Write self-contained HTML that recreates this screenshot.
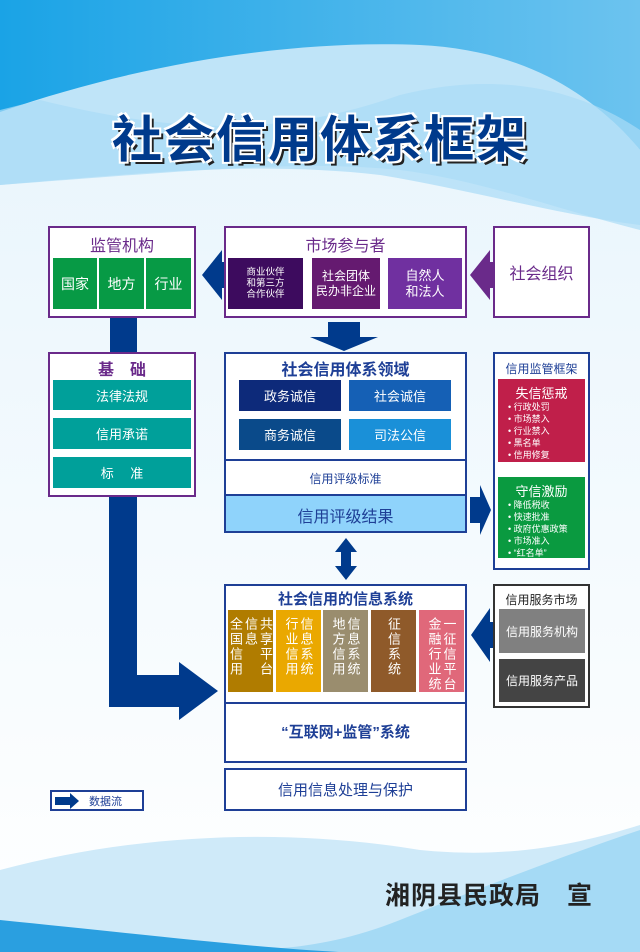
<!DOCTYPE html>
<html><head><meta charset="utf-8"><style>
*{margin:0;padding:0;box-sizing:border-box}
body{width:640px;height:952px;position:relative;overflow:hidden;font-family:"Liberation Sans","Noto Sans CJK SC",sans-serif;background:#fff}
.a{position:absolute}
.box{position:absolute;background:#fff}
.pb{border:2px solid #6a2a8a}
.bb{border:2px solid #1e3f96}
.c{position:absolute;color:#fff;display:flex;align-items:center;justify-content:center;text-align:center}
.t{position:absolute;text-align:center;white-space:nowrap}
.vc{position:absolute;top:610px;width:45px;height:82px;display:flex;flex-direction:row;justify-content:center;align-items:flex-start;padding-top:7px;gap:2px;color:#fff}
.vc span{writing-mode:vertical-lr;text-orientation:upright;font-size:13px;line-height:13px;letter-spacing:2px}
ul{list-style:none;font-size:9px;line-height:12px;color:#fff}
</style></head><body>
<svg class="a" style="left:0;top:0" width="640" height="952">
<defs>
<linearGradient id="g1" x1="0" y1="0" x2="1" y2="0"><stop offset="0" stop-color="#1aa3e6"/><stop offset="1" stop-color="#6cc3ef"/></linearGradient>
<linearGradient id="g2" x1="0" y1="0" x2="0" y2="1"><stop offset="0" stop-color="#e6f4fc"/><stop offset="1" stop-color="#ffffff"/></linearGradient>
</defs>
<rect width="640" height="952" fill="url(#g2)"/>
<rect width="640" height="120" fill="url(#g1)"/>
<path d="M0 112 C150 60 300 40 420 45 C520 50 590 90 640 150 L640 0 L0 0Z" fill="url(#g1)"/>
<path d="M0 112 C150 60 300 40 420 45 C520 50 590 90 640 150 L640 230 C560 210 480 180 400 170 C300 160 200 170 0 185Z" fill="#bfe4f8"/>
<path d="M40 100 C200 140 300 130 400 95 C500 70 580 90 640 130 L640 225 C560 215 470 190 380 175 C250 160 120 175 0 185 L0 110Z" fill="#a9dbf6" opacity="0.7"/>
<path d="M0 870 C150 830 300 830 420 850 C520 860 590 840 640 825 L640 952 L0 952Z" fill="#cfeaf9"/>
<path d="M0 920 C200 960 300 960 400 920 C500 880 580 850 640 830 L640 952 L0 952Z" fill="#9ad6f4" opacity="0.8"/>
<path d="M0 920 C200 940 350 960 450 952 L0 952Z" fill="#2a9fe0"/>
<polygon points="202,275 222,250 222,300" fill="#003a8c"/>
<rect x="214" y="262" width="10" height="26" fill="#003a8c"/>
<polygon points="470,275 490,250 490,300" fill="#6a2a8a"/>
<rect x="484" y="262" width="10" height="26" fill="#6a2a8a"/>
<polygon points="328,322 360,322 360,337 378,337 344,351 310,337 328,337" fill="#003a8c"/>
<rect x="110" y="318" width="27" height="35" fill="#003a8c"/>
<polygon points="109,497 137,497 137,675 179,675 179,662 218,691 179,720 179,707 109,707" fill="#003a8c"/>
<polygon points="470,497 480,497 480,485 491,510 480,535 480,523 470,523" fill="#003a8c"/>
<polygon points="346,538 357,552 351,552 351,566 357,566 346,580 335,566 341,566 341,552 335,552" fill="#003a8c"/>
<polygon points="471,635 490,608 490,622 496,622 496,648 490,648 490,662" fill="#003a8c"/>
</svg>
<div class="t" style="left:0;width:640px;top:100px;font-size:50px;font-weight:bold;color:#003a8c;letter-spacing:2px;text-shadow:2px 2px 0 #fff,-2px -2px 0 #fff,2px -2px 0 #fff,-2px 2px 0 #fff,4px 4px 0 #222">社会信用体系框架</div>

<div class="box pb" style="left:48px;top:226px;width:148px;height:92px"></div>
<div class="t" style="left:48px;width:148px;top:232px;font-size:16px;color:#6a2a8a">监管机构</div>
<div class="c" style="left:53px;top:258px;width:44px;height:51px;background:#079a45;font-size:14px">国家</div>
<div class="c" style="left:99px;top:258px;width:45px;height:51px;background:#079a45;font-size:14px">地方</div>
<div class="c" style="left:146px;top:258px;width:45px;height:51px;background:#079a45;font-size:14px">行业</div>

<div class="box pb" style="left:224px;top:226px;width:243px;height:92px"></div>
<div class="t" style="left:224px;width:243px;top:232px;font-size:16px;color:#6a2a8a">市场参与者</div>
<div class="c" style="left:228px;top:258px;width:75px;height:51px;background:#3d0b5e;font-size:9.5px;line-height:11px">商业伙伴<br>和第三方<br>合作伙伴</div>
<div class="c" style="left:312px;top:258px;width:68px;height:51px;background:#651a70;font-size:12px;line-height:15px">社会团体<br>民办非企业</div>
<div class="c" style="left:388px;top:258px;width:74px;height:51px;background:#7030a0;font-size:13px;line-height:16px">自然人<br>和法人</div>

<div class="box pb" style="left:493px;top:226px;width:97px;height:92px"></div>
<div class="t" style="left:493px;width:97px;top:260px;font-size:16px;color:#6a2a8a">社会组织</div>

<div class="box pb" style="left:48px;top:352px;width:148px;height:145px"></div>
<div class="t" style="left:48px;width:148px;top:356px;font-size:16px;font-weight:bold;color:#6a2a8a">基　础</div>
<div class="c" style="left:53px;top:380px;width:138px;height:30px;background:#00a09a;font-size:13px">法律法规</div>
<div class="c" style="left:53px;top:418px;width:138px;height:31px;background:#00a09a;font-size:13px">信用承诺</div>
<div class="c" style="left:53px;top:457px;width:138px;height:31px;background:#00a09a;font-size:13px">标　 准</div>

<div class="box bb" style="left:224px;top:352px;width:243px;height:181px"></div>
<div class="t" style="left:224px;width:243px;top:356px;font-size:16px;font-weight:bold;color:#1e3f96">社会信用体系领域</div>
<div class="c" style="left:239px;top:380px;width:102px;height:31px;background:#0d2a7a;font-size:13px">政务诚信</div>
<div class="c" style="left:349px;top:380px;width:102px;height:31px;background:#1560b5;font-size:13px">社会诚信</div>
<div class="c" style="left:239px;top:419px;width:102px;height:31px;background:#0a4a8a;font-size:13px">商务诚信</div>
<div class="c" style="left:349px;top:419px;width:102px;height:31px;background:#1a90d8;font-size:13px">司法公信</div>
<div class="a" style="left:224px;top:459px;width:243px;height:2px;background:#1e3f96"></div>
<div class="t" style="left:224px;width:243px;top:470px;font-size:12px;color:#1e3f96">信用评级标准</div>
<div class="a" style="left:224px;top:494px;width:243px;height:39px;background:#8fd3fb;border:2px solid #1e3f96"></div>
<div class="t" style="left:224px;width:243px;top:503px;font-size:16px;color:#1e3f96">信用评级结果</div>

<div class="box bb" style="left:493px;top:352px;width:97px;height:218px"></div>
<div class="t" style="left:493px;width:97px;top:360px;font-size:12px;color:#1e3f96">信用监管框架</div>
<div class="a" style="left:498px;top:379px;width:87px;height:83px;background:#c01f4a"></div>
<div class="t" style="left:498px;width:87px;top:383px;font-size:13px;color:#fff">失信惩戒</div>
<ul class="a" style="left:508px;top:401px"><li>• 行政处罚</li><li>• 市场禁入</li><li>• 行业禁入</li><li>• 黑名单</li><li>• 信用修复</li></ul>
<div class="a" style="left:498px;top:477px;width:87px;height:81px;background:#0a9a40"></div>
<div class="t" style="left:498px;width:87px;top:481px;font-size:13px;color:#fff">守信激励</div>
<ul class="a" style="left:508px;top:499px"><li>• 降低税收</li><li>• 快速批准</li><li>• 政府优惠政策</li><li>• 市场准入</li><li>• “红名单”</li></ul>

<div class="box bb" style="left:224px;top:584px;width:243px;height:179px"></div>
<div class="t" style="left:224px;width:243px;top:588px;font-size:15px;font-weight:bold;color:#1e3f96">社会信用的信息系统</div>
<div class="vc" style="left:228px;background:#b07c00"><span>全国信用</span><span>信息</span><span>共享平台</span></div>
<div class="vc" style="left:276px;background:#eaa800"><span>行业信用</span><span>信息系统</span></div>
<div class="vc" style="left:323px;background:#9a8d6e"><span>地方信用</span><span>信息系统</span></div>
<div class="vc" style="left:371px;background:#8f5a2a"><span>征信系统</span></div>
<div class="vc" style="left:419px;background:#e0687a"><span>金融行业统</span><span>一征信平台</span></div>
<div class="a" style="left:224px;top:702px;width:243px;height:2px;background:#1e3f96"></div>
<div class="t" style="left:224px;width:243px;top:721px;font-size:15px;font-weight:bold;color:#1e3f96">“互联网+监管”系统</div>

<div class="box bb" style="left:224px;top:768px;width:243px;height:43px"></div>
<div class="t" style="left:224px;width:243px;top:779px;font-size:15px;color:#1e3f96">信用信息处理与保护</div>

<div class="box" style="left:493px;top:584px;width:97px;height:124px;border:2px solid #333"></div>
<div class="t" style="left:493px;width:97px;top:591px;font-size:12px;color:#222">信用服务市场</div>
<div class="c" style="left:499px;top:609px;width:86px;height:44px;background:#808080;font-size:12px">信用服务机构</div>
<div class="c" style="left:499px;top:659px;width:86px;height:43px;background:#444;font-size:12px">信用服务产品</div>

<div class="box" style="left:50px;top:790px;width:94px;height:21px;border:2px solid #1e3f96"></div>
<svg class="a" style="left:55px;top:793px" width="28" height="16"><polygon points="0,4 15,4 15,0 24,8 15,16 15,12 0,12" fill="#003a8c"/></svg>
<div class="t" style="left:89px;top:793px;font-size:11px;color:#1e3f96">数据流</div>

<div class="t" style="left:385px;top:876px;font-size:25px;font-weight:bold;color:#222;letter-spacing:1px">湘阴县民政局　宣</div>
</body></html>
